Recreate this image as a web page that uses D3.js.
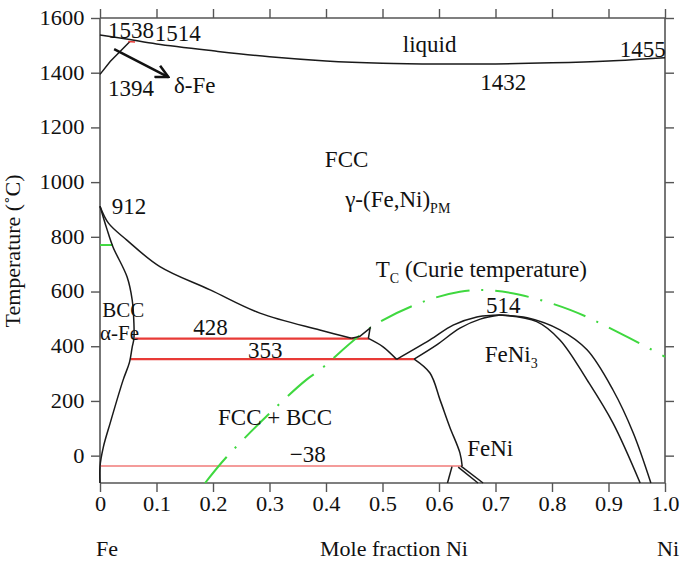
<!DOCTYPE html>
<html><head><meta charset="utf-8">
<script src="https://cdn.jsdelivr.net/npm/d3@7"></script>
</head><body style="margin:0;background:#fff">
<svg id="c" width="682" height="564"></svg>
<script>
// ---- data (x = mole fraction Ni, y = temperature °C) ----
const xTicks = [0,0.1,0.2,0.3,0.4,0.5,0.6,0.7,0.8,0.9,1.0];
const xTickLabels = ["0","0.1","0.2","0.3","0.4","0.5","0.6","0.7","0.8","0.9","1.0"];
const yTicks = [0,200,400,600,800,1000,1200,1400,1600];

const liquidus = [[0,1538],[0.05,1522],[0.1,1505],[0.2,1480],[0.3,1458],[0.4,1443],[0.5,1435],[0.6,1432],[0.7,1432],[0.8,1436],[0.9,1443],[1.0,1455]];
const deltaLine = [[0,1394],[0.018,1441],[0.053,1514]];
const deltaRed = [[0.05,1514],[0.062,1512]];
const deltaArrow = [[0.025,1486],[0.121,1384]];
const alphaBoundary = [[0,912],[0.012,830],[0.023,763],[0.048,653],[0.057,569],[0.06,485],[0.06,428],[0.057,397],[0.052,340],[0.041,277],[0.018,119],[0.006,32],[0,-40],[0,-100]];
const gammaBoundary = [[0,912],[0.015,850],[0.047,789],[0.106,691],[0.195,606],[0.283,521],[0.389,459],[0.445,429]];
const bump = [[0.445,429],[0.46,436],[0.478,466],[0.475,429]];
const gammaFeNi3 = [[0.475,429],[0.501,398],[0.525,352]];
const gammaLower = [[0.556,353],[0.584,302],[0.602,203],[0.619,105],[0.637,10],[0.641,-38]];
const feniLeft = [[0.623,-40],[0.615,-100]];
const feniRight1 = [[0.634,-42],[0.669,-100]];
const feniRight2 = [[0.639,-38],[0.678,-100]];
const domeOuterLeft = [[0.525,352],[0.584,423],[0.625,477],[0.667,507],[0.696,513],[0.708,514]];
const domeInnerLeft = [[0.556,353],[0.596,405],[0.637,466],[0.673,499],[0.708,514]];
const domeOuterRight = [[0.708,514],[0.756,504],[0.814,460],[0.862,387],[0.908,240],[0.944,82],[0.975,-100]];
const domeInnerRight = [[0.708,514],[0.773,490],[0.814,423],[0.862,277],[0.908,119],[0.956,-100]];
const curie = [[0.186,-100],[0.224,-5],[0.312,178],[0.365,277],[0.389,313],[0.478,467],[0.566,558],[0.637,599],[0.685,605],[0.743,588],[0.832,533],[0.92,448],[1.0,361]];
const curieAlpha = [[0,770],[0.023,770]];
const redTies = [{t:428,x0:0.062,x1:0.476},{t:353,x0:0.054,x1:0.556}];
const redTieLow = {t:-38,x0:0,x1:0.641};

const labels = [
  {s:"1538",x:0.014,y:1527},{s:"1514",x:0.097,y:1516},{s:"1394",x:0.014,y:1315},
  {s:"δ-Fe",x:0.131,y:1326},{s:"liquid",x:0.536,y:1476},{s:"1432",x:0.673,y:1337},
  {s:"1455",x:0.92,y:1458},{s:"FCC",x:0.398,y:1056},{s:"912",x:0.021,y:883},
  {s:"514",x:0.683,y:522},{s:"BCC",x:0.004,y:508},{s:"α-Fe",x:0.0,y:422},
  {s:"428",x:0.165,y:441},{s:"353",x:0.262,y:357},{s:"FCC + BCC",x:0.209,y:112},
  {s:"FeNi",x:0.650,y:-1},{s:"−38",x:0.336,y:-23}
];
const subLabels = [
  {main:"γ-(Fe,Ni)",sub:"PM",tail:"",x:0.434,y:909},
  {main:"T",sub:"C",tail:" (Curie temperature)",x:0.488,y:653},
  {main:"FeNi",sub:"3",tail:"",x:0.681,y:342}
];

// ---- chart ----
const fontParts = ["Liberation", "Serif"];
const FONT = `"${fontParts.join(" ")}"`;
const svg = d3.select("#c");
const x = d3.scaleLinear().domain([0,1]).range([100,665]);
const y = d3.scaleLinear().domain([-100,1600]).range([483,18]);
const axisCol = "#555";

const gX = svg.append("g").attr("transform",`translate(0,${y(-100)})`)
  .call(d3.axisBottom(x).tickValues(xTicks).tickSize(9).tickFormat((d,i)=>xTickLabels[i]));
const gXt = svg.append("g").attr("transform",`translate(0,${y(1600)})`)
  .call(d3.axisTop(x).tickValues(xTicks).tickSize(9).tickFormat(""));
const gY = svg.append("g").attr("transform",`translate(${x(0)},0)`)
  .call(d3.axisLeft(y).tickValues(yTicks).tickSize(9).tickFormat(d3.format("d")));
const gYr = svg.append("g").attr("transform",`translate(${x(1)},0)`)
  .call(d3.axisRight(y).tickValues(yTicks).tickSize(9).tickFormat(""));
[gX,gXt,gY,gYr].forEach(g=>{
  g.select(".domain").attr("stroke",axisCol).attr("stroke-width",1.6);
  g.selectAll(".tick line").attr("stroke",axisCol).attr("stroke-width",1.4);
});
gX.selectAll(".tick text").style("font-family",FONT).attr("font-size",20).attr("fill","#111").attr("y",14).attr("dy","0.71em")
  .attr("transform","scale(1.12,1)");
gY.selectAll(".tick text").style("font-family",FONT).attr("font-size",20).attr("fill","#111").attr("x",-14).attr("transform","scale(1.12,1)");
gX.select(".domain").attr("d",`M100,0H665`);
gXt.select(".domain").attr("d",`M100,0H665`);
gY.select(".domain").attr("d",`M0,${y(-100)}V${y(1600)}`);
gYr.select(".domain").attr("d",`M0,${y(-100)}V${y(1600)}`);

const line = d3.line().x(d=>x(d[0])).y(d=>y(d[1])).curve(d3.curveCatmullRom.alpha(0.5));
const lin = d3.line().x(d=>x(d[0])).y(d=>y(d[1]));

// red tie lines
redTies.forEach(r=>{
  svg.append("line").attr("x1",x(r.x0)).attr("x2",x(r.x1)).attr("y1",y(r.t)).attr("y2",y(r.t))
    .attr("stroke","#e83a36").attr("stroke-width",2.2);
});
svg.append("line").attr("x1",x(redTieLow.x0)).attr("x2",x(redTieLow.x1)).attr("y1",y(redTieLow.t)).attr("y2",y(redTieLow.t))
  .attr("stroke","#f07a78").attr("stroke-width",1.6);

// curie (green dash-dot)
svg.append("path").attr("d",line(curie)).attr("fill","none").attr("stroke","#3fd83f")
  .attr("stroke-width",2).attr("stroke-dasharray","34,12,2,12");
svg.append("path").attr("d",lin(curieAlpha)).attr("fill","none").attr("stroke","#3fd83f").attr("stroke-width",2);

// black phase boundaries
const black = [liquidus,alphaBoundary,gammaBoundary,gammaFeNi3,gammaLower,domeOuterLeft,domeInnerLeft,domeOuterRight,domeInnerRight];
black.forEach(p=>svg.append("path").attr("d",line(p)).attr("fill","none").attr("stroke","#1a1a1a").attr("stroke-width",1.5));
[deltaLine,bump,feniLeft,feniRight1,feniRight2].forEach(p=>svg.append("path").attr("d",lin(p)).attr("fill","none").attr("stroke","#1a1a1a").attr("stroke-width",1.5));
svg.append("path").attr("d",lin(deltaRed)).attr("stroke","#e83a36").attr("stroke-width",1.5);

// arrow
svg.append("defs").append("marker").attr("id","arr").attr("viewBox","0 0 12 12").attr("refX",11).attr("refY",6)
  .attr("markerWidth",15).attr("markerHeight",15).attr("markerUnits","userSpaceOnUse").attr("orient","auto")
  .append("path").attr("d","M1,1L11,6L1,11").attr("fill","none").attr("stroke","#111").attr("stroke-width",2);
svg.append("path").attr("d",lin(deltaArrow)).attr("stroke","#111").attr("stroke-width",2.4).attr("marker-end","url(#arr)");

// labels
labels.forEach(l=>svg.append("text").style("font-family",FONT).attr("fill","#111")
  .attr("x",x(l.x)).attr("y",y(l.y)).attr("font-size",l.s==="BCC"||l.s==="α-Fe"?21:23).text(l.s));
subLabels.forEach(l=>{
  const t = svg.append("text").style("font-family",FONT).attr("fill","#111").attr("x",x(l.x)).attr("y",y(l.y)).attr("font-size",23);
  t.append("tspan").text(l.main);
  t.append("tspan").attr("font-size",14).attr("dy",6).text(l.sub);
  if(l.tail) t.append("tspan").attr("dy",-6).text(l.tail);
});

// axis titles
svg.append("text").style("font-family",FONT).attr("fill","#111").attr("transform","translate(20,251) rotate(-90)").attr("text-anchor","middle")
  .attr("font-size",22).text("Temperature (˚C)");
svg.append("text").style("font-family",FONT).attr("fill","#111").attr("x",96).attr("y",556).attr("font-size",22).text("Fe");
svg.append("text").style("font-family",FONT).attr("fill","#111").attr("x",394).attr("y",556).attr("text-anchor","middle").attr("font-size",22).text("Mole fraction Ni");
svg.append("text").style("font-family",FONT).attr("fill","#111").attr("x",657).attr("y",556).attr("font-size",22).text("Ni");
</script></body></html>
